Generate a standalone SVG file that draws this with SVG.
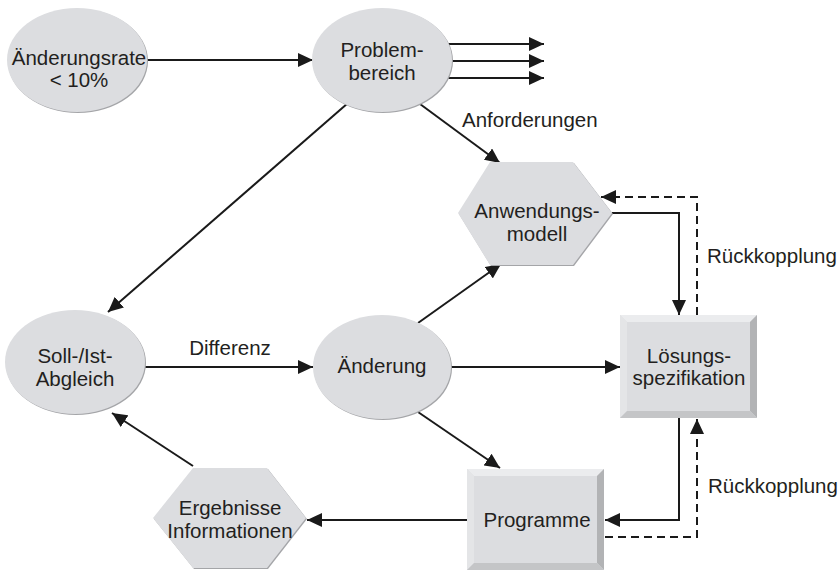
<svg xmlns="http://www.w3.org/2000/svg" width="838" height="570" viewBox="0 0 838 570">
<defs>
<marker id="ah" markerUnits="userSpaceOnUse" markerWidth="16" markerHeight="14" refX="15" refY="7" orient="auto">
<path d="M0,0 L15,7 L0,14 z" fill="#1a1a1a"/>
</marker>
<style>
text{font-family:"Liberation Sans",Arial,sans-serif;font-size:20.5px;fill:#231f20}
.c{text-anchor:middle}
.ell{fill:#dcdde0}
.sh{fill:#a4a5a8}
.hex{fill:#dcdde0}
.ln{stroke:#1a1a1a;stroke-width:2;fill:none}
.ds{stroke:#1a1a1a;stroke-width:2;fill:none;stroke-dasharray:8,5}
.face{fill:#dcdde0}
.lt{fill:#ebecee}
.lf{fill:#e4e5e7}
.rt{fill:#b2b3b5}
.bt{fill:#c4c5c7}
</style>
</defs>
<rect width="838" height="570" fill="#ffffff"/>

<g id="connectors">
<line class="ln" x1="146" y1="60" x2="313" y2="60" marker-end="url(#ah)"/>
<line class="ln" x1="447" y1="44" x2="544" y2="44" marker-end="url(#ah)"/>
<line class="ln" x1="447" y1="61" x2="544" y2="61" marker-end="url(#ah)"/>
<line class="ln" x1="447" y1="78" x2="544" y2="78" marker-end="url(#ah)"/>
<line class="ln" x1="420" y1="104" x2="500" y2="163" marker-end="url(#ah)"/>
<line class="ln" x1="348" y1="103" x2="108" y2="312" marker-end="url(#ah)"/>
<polyline class="ln" points="612,213 679,213 679,315" marker-end="url(#ah)"/>
<polyline class="ds" points="697,315 697,197 601,197" marker-end="url(#ah)"/>
<line class="ln" x1="145" y1="367" x2="313" y2="367" marker-end="url(#ah)"/>
<line class="ln" x1="450" y1="367" x2="620" y2="367" marker-end="url(#ah)"/>
<line class="ln" x1="418" y1="323" x2="501" y2="264" marker-end="url(#ah)"/>
<line class="ln" x1="418" y1="412" x2="500" y2="468" marker-end="url(#ah)"/>
<polyline class="ln" points="679,418 679,520 605,520" marker-end="url(#ah)"/>
<polyline class="ds" points="605,537 697,537 697,419" marker-end="url(#ah)"/>
<line class="ln" x1="467" y1="520" x2="307" y2="520" marker-end="url(#ah)"/>
<line class="ln" x1="193" y1="466" x2="112" y2="413" marker-end="url(#ah)"/>
</g>

<g id="aenderungsrate">
<ellipse class="sh" cx="78" cy="61" rx="70" ry="52"/>
<ellipse class="ell" cx="77" cy="60" rx="70" ry="52"/>
<text class="c" x="79" y="65">Änderungsrate</text>
<text class="c" x="79" y="87">&lt; 10%</text>
</g>

<g id="problembereich">
<ellipse class="sh" cx="383" cy="61" rx="70" ry="52"/>
<ellipse class="ell" cx="382" cy="60" rx="70" ry="52"/>
<text class="c" x="382" y="57">Problem-</text>
<text class="c" x="382" y="80">bereich</text>
</g>

<g id="anwendungsmodell">
<polygon class="sh" points="459,214 491,163 574,163 613,214 574,266 491,266"/>
<polygon class="hex" points="458,213 490,162 573,162 612,213 573,265 490,265"/>
<text class="c" x="537" y="218">Anwendungs-</text>
<text class="c" x="537" y="241">modell</text>
</g>

<g id="soll-ist">
<ellipse class="sh" cx="76" cy="363" rx="70" ry="52"/>
<ellipse class="ell" cx="75" cy="362" rx="70" ry="52"/>
<text class="c" x="75" y="363">Soll-/Ist-</text>
<text class="c" x="75" y="386">Abgleich</text>
</g>

<g id="aenderung">
<ellipse class="sh" cx="383" cy="368" rx="69" ry="52"/>
<ellipse class="ell" cx="382" cy="367" rx="69" ry="52"/>
<text class="c" x="382" y="373">Änderung</text>
</g>

<g id="loesungsspezifikation">
<rect class="face" x="620" y="315" width="137" height="103"/>
<polygon class="lt" points="620,315 757,315 750,322 627,322"/>
<polygon class="lf" points="620,315 627,322 627,411 620,418"/>
<polygon class="rt" points="757,315 757,418 750,411 750,322"/>
<polygon class="bt" points="620,418 757,418 750,411 627,411"/>
<text class="c" x="689" y="363">Lösungs-</text>
<text class="c" x="689" y="385">spezifikation</text>
</g>

<g id="programme">
<rect class="face" x="467" y="469" width="137" height="101"/>
<polygon class="lt" points="467,469 604,469 597,476 474,476"/>
<polygon class="lf" points="467,469 474,476 474,563 467,570"/>
<polygon class="rt" points="604,469 604,570 597,563 597,476"/>
<polygon class="bt" points="467,570 604,570 597,563 474,563"/>
<text class="c" x="537" y="527">Programme</text>
</g>

<g id="ergebnisse">
<polygon class="sh" points="154,519 194,469 268,469 307,519 268,569 194,569"/>
<polygon class="hex" points="153,518 193,468 267,468 306,518 267,568 193,568"/>
<text class="c" x="230" y="515">Ergebnisse</text>
<text class="c" x="230" y="538">Informationen</text>
</g>

<g id="labels">
<text x="462" y="127">Anforderungen</text>
<text x="707" y="263">Rückkopplung</text>
<text x="708" y="493">Rückkopplung</text>
<text class="c" x="230" y="355">Differenz</text>
</g>
</svg>
